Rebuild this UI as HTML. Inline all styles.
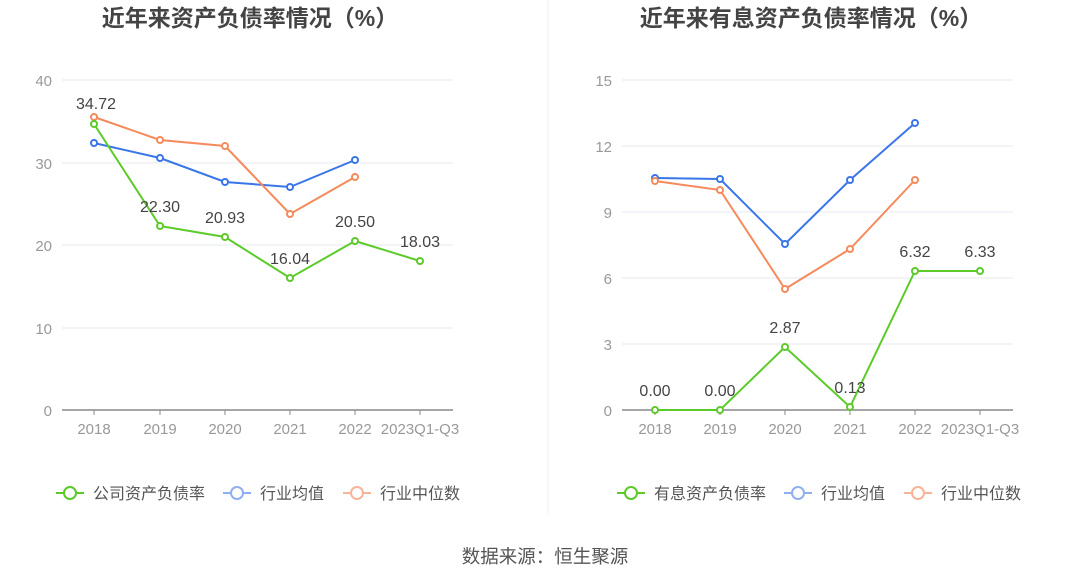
<!DOCTYPE html>
<html><head><meta charset="utf-8"><style>
body{margin:0;background:#fff;}
svg text{font-family:"Liberation Sans","Noto Sans CJK SC",sans-serif;}
</style></head><body>
<svg width="1089" height="582" viewBox="0 0 1089 582" xmlns="http://www.w3.org/2000/svg">
<rect width="1089" height="582" fill="#fff"/>
<line x1="548" y1="0" x2="548" y2="515" stroke="#eef0f4" stroke-width="1"/>
<text x="250" y="26" text-anchor="middle" font-size="23" font-weight="bold" fill="#444">近年来资产负债率情况（%）</text>
<text x="811" y="26" text-anchor="middle" font-size="23" font-weight="bold" fill="#444">近年来有息资产负债率情况（%）</text>
<g stroke="#e6e9f0" stroke-width="1">
<line x1="62" y1="80" x2="453" y2="80"/><line x1="62" y1="163" x2="453" y2="163"/><line x1="62" y1="245" x2="453" y2="245"/><line x1="62" y1="328" x2="453" y2="328"/>
<line x1="622" y1="80" x2="1013" y2="80"/><line x1="622" y1="146" x2="1013" y2="146"/><line x1="622" y1="212" x2="1013" y2="212"/><line x1="622" y1="278" x2="1013" y2="278"/><line x1="622" y1="344" x2="1013" y2="344"/>
</g>
<g stroke="#888" stroke-width="1.5"><line x1="62" y1="410" x2="453" y2="410"/><line x1="622" y1="410" x2="1013" y2="410"/></g>
<g stroke="#888" stroke-width="1">
<line x1="94" y1="410" x2="94" y2="415"/><line x1="160" y1="410" x2="160" y2="415"/><line x1="225" y1="410" x2="225" y2="415"/><line x1="290" y1="410" x2="290" y2="415"/><line x1="355" y1="410" x2="355" y2="415"/><line x1="420" y1="410" x2="420" y2="415"/>
<line x1="655" y1="410" x2="655" y2="415"/><line x1="720" y1="410" x2="720" y2="415"/><line x1="785" y1="410" x2="785" y2="415"/><line x1="850" y1="410" x2="850" y2="415"/><line x1="915" y1="410" x2="915" y2="415"/><line x1="980" y1="410" x2="980" y2="415"/>
</g>
<g font-size="15" fill="#999" text-anchor="end">
<text x="52" y="86">40</text><text x="52" y="169">30</text><text x="52" y="251">20</text><text x="52" y="334">10</text><text x="52" y="416">0</text>
<text x="612" y="86">15</text><text x="612" y="152">12</text><text x="612" y="218">9</text><text x="612" y="284">6</text><text x="612" y="350">3</text><text x="612" y="416">0</text>
</g>
<g font-size="15" fill="#999" text-anchor="middle">
<text x="94" y="434">2018</text><text x="160" y="434">2019</text><text x="225" y="434">2020</text><text x="290" y="434">2021</text><text x="355" y="434">2022</text><text x="420" y="434">2023Q1-Q3</text>
<text x="655" y="434">2018</text><text x="720" y="434">2019</text><text x="785" y="434">2020</text><text x="850" y="434">2021</text><text x="915" y="434">2022</text><text x="980" y="434">2023Q1-Q3</text>
</g>
<g fill="#fff" stroke-width="2">
<polyline fill="none" stroke="#3a76e8" points="94,143 160,158 225,182 290,187 355,160"/>
<polyline fill="none" stroke="#f58a5c" points="94,117 160,140 225,146 290,214 355,177"/>
<polyline fill="none" stroke="#5ccb2a" points="94,124 160,226 225,237 290,278 355,241 420,261"/>
<g stroke="#3a76e8"><circle cx="94" cy="143" r="3"/><circle cx="160" cy="158" r="3"/><circle cx="225" cy="182" r="3"/><circle cx="290" cy="187" r="3"/><circle cx="355" cy="160" r="3"/></g>
<g stroke="#f58a5c"><circle cx="94" cy="117" r="3"/><circle cx="160" cy="140" r="3"/><circle cx="225" cy="146" r="3"/><circle cx="290" cy="214" r="3"/><circle cx="355" cy="177" r="3"/></g>
<g stroke="#5ccb2a"><circle cx="94" cy="124" r="3"/><circle cx="160" cy="226" r="3"/><circle cx="225" cy="237" r="3"/><circle cx="290" cy="278" r="3"/><circle cx="355" cy="241" r="3"/><circle cx="420" cy="261" r="3"/></g>
<polyline fill="none" stroke="#3a76e8" points="655,178 720,179 785,244 850,180 915,123"/>
<polyline fill="none" stroke="#f58a5c" points="655,181 720,190 785,289 850,249 915,180"/>
<polyline fill="none" stroke="#5ccb2a" points="655,410 720,410 785,347 850,407 915,271 980,271"/>
<g stroke="#3a76e8"><circle cx="655" cy="178" r="3"/><circle cx="720" cy="179" r="3"/><circle cx="785" cy="244" r="3"/><circle cx="850" cy="180" r="3"/><circle cx="915" cy="123" r="3"/></g>
<g stroke="#f58a5c"><circle cx="655" cy="181" r="3"/><circle cx="720" cy="190" r="3"/><circle cx="785" cy="289" r="3"/><circle cx="850" cy="249" r="3"/><circle cx="915" cy="180" r="3"/></g>
<g stroke="#5ccb2a"><circle cx="655" cy="410" r="3"/><circle cx="720" cy="410" r="3"/><circle cx="785" cy="347" r="3"/><circle cx="850" cy="407" r="3"/><circle cx="915" cy="271" r="3"/><circle cx="980" cy="271" r="3"/></g>
</g>
<g font-size="16" fill="#444" text-anchor="middle">
<text x="96" y="109">34.72</text><text x="160" y="212">22.30</text><text x="225" y="223">20.93</text><text x="290" y="264">16.04</text><text x="355" y="227">20.50</text><text x="420" y="247">18.03</text>
<text x="655" y="396">0.00</text><text x="720" y="396">0.00</text><text x="785" y="333">2.87</text><text x="850" y="393">0.13</text><text x="915" y="257">6.32</text><text x="980" y="257">6.33</text>
</g>
<g font-size="16" fill="#555" stroke-width="2">
<line x1="56" y1="493" x2="84" y2="493" stroke="#5ccb2a"/><circle cx="70" cy="493" r="6" fill="#fff" stroke="#5ccb2a"/><text x="93" y="499">公司资产负债率</text>
<line x1="223" y1="493" x2="251" y2="493" stroke="#8fb0f0"/><circle cx="237" cy="493" r="6" fill="#fff" stroke="#8fb0f0"/><text x="260" y="499">行业均值</text>
<line x1="343" y1="493" x2="371" y2="493" stroke="#f8b49a"/><circle cx="357" cy="493" r="6" fill="#fff" stroke="#f8b49a"/><text x="380" y="499">行业中位数</text>
<line x1="617" y1="493" x2="645" y2="493" stroke="#5ccb2a"/><circle cx="631" cy="493" r="6" fill="#fff" stroke="#5ccb2a"/><text x="654" y="499">有息资产负债率</text>
<line x1="784" y1="493" x2="812" y2="493" stroke="#8fb0f0"/><circle cx="798" cy="493" r="6" fill="#fff" stroke="#8fb0f0"/><text x="821" y="499">行业均值</text>
<line x1="904" y1="493" x2="932" y2="493" stroke="#f8b49a"/><circle cx="918" cy="493" r="6" fill="#fff" stroke="#f8b49a"/><text x="941" y="499">行业中位数</text>
</g>
<text x="545" y="563" text-anchor="middle" font-size="18.5" fill="#555">数据来源：恒生聚源</text>
</svg>
</body></html>
